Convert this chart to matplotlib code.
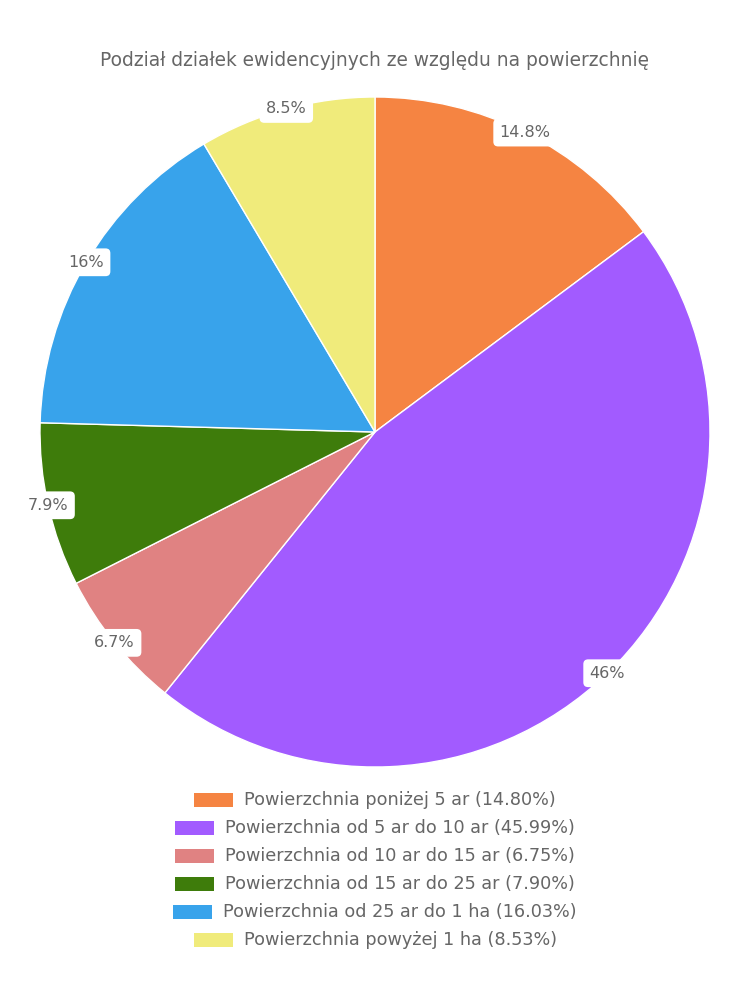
import matplotlib.pyplot as plt
from matplotlib.patches import Rectangle
import numpy as np

plt.rcParams['font.family'] = ['DejaVu Sans']

# dane
kategorie = [
    'Powierzchnia poniżej 5 ar',
    'Powierzchnia od 5 ar do 10 ar',
    'Powierzchnia od 10 ar do 15 ar',
    'Powierzchnia od 15 ar do 25 ar',
    'Powierzchnia od 25 ar do 1 ha',
    'Powierzchnia powyżej 1 ha',
]
wartosci = [14.80, 45.99, 6.75, 7.90, 16.03, 8.53]
etykiety = ['14.8%', '46%', '6.7%', '7.9%', '16%', '8.5%']
kolory = ['#F58442', '#A25BFF', '#E08282', '#3E7C0B', '#38A3EB', '#F0EB7B']

tekst_kolor = '#666666'

fig = plt.figure(figsize=(7.5, 10), dpi=100)
ax = fig.add_axes([40 / 750, 233 / 1000, 670 / 750, 670 / 1000])

wedges, _ = ax.pie(wartosci, colors=kolory, startangle=90, counterclock=False,
                   radius=1, wedgeprops=dict(edgecolor='white', linewidth=1))
ax.set_xlim(-1.0, 1.0)
ax.set_ylim(-1.0, 1.0)
ax.set_aspect('equal')
ax.axis('off')

# etykiety na krawedzi wycinkow
for w, lab in zip(wedges, etykiety):
    kat = np.deg2rad((w.theta1 + w.theta2) / 2)
    x, y = np.cos(kat), np.sin(kat)
    ax.text(x, y, lab, ha='center', va='center', fontsize=11.5, color=tekst_kolor,
            clip_on=False,
            bbox=dict(boxstyle='round,pad=0.4,rounding_size=0.3', fc='white', ec='none'))

fig.text(0.5, 1 - 61 / 1000, 'Podział działek ewidencyjnych ze względu na powierzchnię',
         ha='center', va='center', fontsize=13.4, color=tekst_kolor)

# legenda - kazdy wiersz wysrodkowany osobno
fig.canvas.draw()
renderer = fig.canvas.get_renderer()
W, H = 750, 1000
box_w, box_h, gap = 39, 14, 11
for i, (kat_nazwa, v, kol) in enumerate(zip(kategorie, wartosci, kolory)):
    yc = 800 + i * 28
    t = fig.text(0, 1 - yc / H, f'{kat_nazwa} ({v:.2f}%)', ha='left', va='center',
                 fontsize=12.7, color=tekst_kolor)
    tw = t.get_window_extent(renderer).width
    total = box_w + gap + tw
    x0 = (W - total) / 2
    t.set_x((x0 + box_w + gap) / W)
    fig.patches.append(Rectangle((x0 / W, 1 - (yc + box_h / 2) / H), box_w / W, box_h / H,
                                 transform=fig.transFigure, fc=kol, ec='none'))

fig.savefig('out.png', dpi=100, facecolor='white')
